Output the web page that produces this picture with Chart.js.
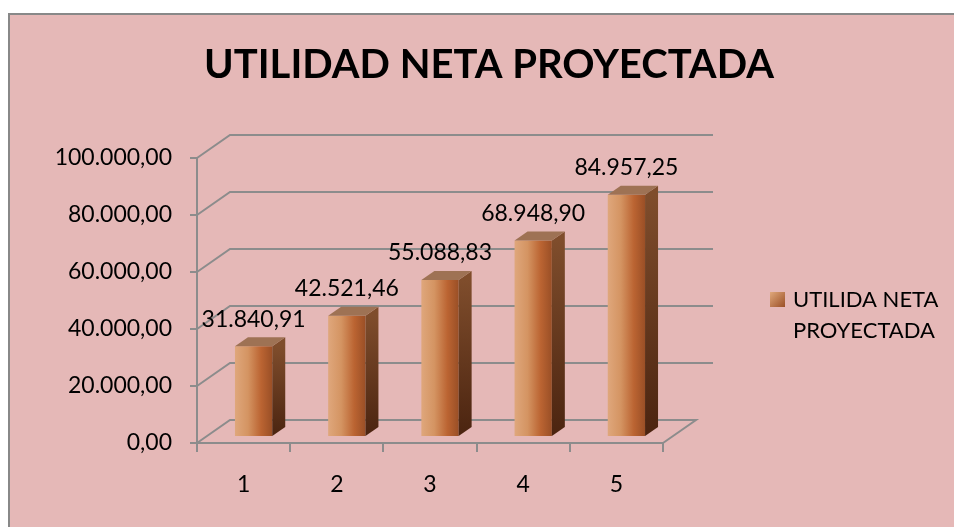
<!DOCTYPE html>
<html>
<head>
<meta charset="utf-8">
<script src="https://cdn.jsdelivr.net/npm/chart.js@4.4.1/dist/chart.umd.min.js"></script>
<style>
  html, body { margin: 0; padding: 0; background: #fff; overflow: hidden; }
  #panel { position: absolute; left: 8px; top: 13px; width: 970px; height: 540px; background: #e5b8b7; border: 2px solid #888; }
  #wrap { position: absolute; left: 0; top: 0; width: 954px; height: 527px; }
</style>
</head>
<body>
<div id="panel"></div>
<div id="wrap"><canvas id="utilidadChart"></canvas></div>
<script>
// --------------------
// Data
// --------------------
const periods = ["1", "2", "3", "4", "5"];
const utilidadNeta = [31840.91, 42521.46, 55088.83, 68948.90, 84957.25];
const yTickValues = [0, 20000, 40000, 60000, 80000, 100000];
const seriesName = "UTILIDA NETA PROYECTADA";
const chartTitle = "UTILIDAD NETA PROYECTADA";

// --------------------
// Look
// --------------------
const FONT = "Lato";
const GRID_COLOR = "#8c8c8c";
const WALL_DX = 33, WALL_DY = -23;     // back wall offset
const WALL_EXTRA = 50;                  // back gridlines run a bit past the floor
const BAR_DX = 10, BAR_DY = -6;         // bars sit a little inside the floor
const BAR_DEPTH_X = 13, BAR_DEPTH_Y = -9;

function formatEs(v) {
  const parts = Number(v).toFixed(2).split(".");
  const intPart = parts[0].replace(/\B(?=(\d{3})+(?!\d))/g, ".");
  return intPart + "," + parts[1];
}

function frontGradient(c) {
  const chart = c.chart;
  if (!chart.chartArea || c.type !== "data") return "#c97a45";
  const xs = chart.scales.x;
  const cx = xs.getPixelForValue(c.dataIndex);
  const half = xs.width / periods.length * 0.4 / 2;
  const g = chart.ctx.createLinearGradient(cx - half, 0, cx + half, 0);
  g.addColorStop(0, "#dfa77c");
  g.addColorStop(0.35, "#d49462");
  g.addColorStop(0.7, "#bb6432");
  g.addColorStop(1, "#9a4f26");
  return g;
}

// --------------------
// 3D look: back wall, bar sides/tops, value labels, legend
// --------------------
const excel3d = {
  id: "excel3d",
  beforeDatasetsDraw(chart) {
    const { ctx, chartArea, scales: { y } } = chart;
    ctx.save();
    ctx.strokeStyle = GRID_COLOR;
    ctx.lineWidth = 2;
    yTickValues.forEach(v => {
      const py = y.getPixelForValue(v);
      ctx.beginPath();
      ctx.moveTo(chartArea.left, py);
      ctx.lineTo(chartArea.left + WALL_DX, py + WALL_DY);
      if (v === 0) {
        ctx.lineTo(chartArea.right + WALL_DX, py + WALL_DY);
        ctx.lineTo(chartArea.right, py);
      } else {
        ctx.lineTo(chartArea.right + WALL_EXTRA, py + WALL_DY);
      }
      ctx.stroke();
    });
    ctx.restore();
  },
  beforeDatasetDraw(chart) {
    chart.ctx.save();
    chart.ctx.translate(BAR_DX, BAR_DY);
  },
  afterDatasetDraw(chart, args) {
    const ctx = chart.ctx;
    const bars = chart.getDatasetMeta(args.index).data;
    bars.forEach(bar => {
      const { x, y, base, width } = bar.getProps(["x", "y", "base", "width"], true);
      const l = x - width / 2, r = x + width / 2;
      // side face
      const side = ctx.createLinearGradient(0, y, 0, base);
      side.addColorStop(0, "#7f4d2c");
      side.addColorStop(1, "#4b2410");
      ctx.fillStyle = side;
      ctx.beginPath();
      ctx.moveTo(r, y);
      ctx.lineTo(r + BAR_DEPTH_X, y + BAR_DEPTH_Y);
      ctx.lineTo(r + BAR_DEPTH_X, base + BAR_DEPTH_Y);
      ctx.lineTo(r, base);
      ctx.closePath();
      ctx.fill();
      // top face
      ctx.fillStyle = "#9e7254";
      ctx.beginPath();
      ctx.moveTo(l, y);
      ctx.lineTo(l + BAR_DEPTH_X, y + BAR_DEPTH_Y);
      ctx.lineTo(r + BAR_DEPTH_X, y + BAR_DEPTH_Y);
      ctx.lineTo(r, y);
      ctx.closePath();
      ctx.fill();
    });
    ctx.restore();

    // value labels
    ctx.save();
    ctx.fillStyle = "#000";
    ctx.font = "23px " + FONT;
    ctx.textAlign = "center";
    ctx.textBaseline = "middle";
    bars.forEach((bar, i) => {
      const { x, y } = bar.getProps(["x", "y"], true);
      ctx.fillText(formatEs(utilidadNeta[i]), x + BAR_DX, y + BAR_DY - 27);
    });
    ctx.restore();
  },
  afterDraw(chart) {
    const ctx = chart.ctx;
    ctx.save();
    const g = ctx.createLinearGradient(770, 292, 785, 307);
    g.addColorStop(0, "#e0a87c");
    g.addColorStop(1, "#9a4f26");
    ctx.fillStyle = g;
    ctx.fillRect(770, 292, 15, 15);
    ctx.fillStyle = "#000";
    ctx.font = "22px " + FONT;
    ctx.textAlign = "left";
    ctx.textBaseline = "middle";
    const words = seriesName.split(" ");
    ctx.fillText(words.slice(0, 2).join(" "), 793, 300);
    ctx.fillText(words.slice(2).join(" "), 793, 331);
    ctx.restore();
  }
};

// --------------------
// Chart
// --------------------
document.addEventListener("DOMContentLoaded", () => {
  const canvas = document.getElementById("utilidadChart");
  new Chart(canvas, {
    type: "bar",
    data: {
      labels: periods,
      datasets: [
        {
          label: seriesName,
          data: utilidadNeta,
          backgroundColor: frontGradient,
          borderWidth: 0,
          barPercentage: 0.4,
          categoryPercentage: 1,
          clip: false
        }
      ]
    },
    options: {
      responsive: true,
      maintainAspectRatio: false,
      animation: false,
      layout: { padding: { left: 24, right: 0, top: 0, bottom: 0 } },
      plugins: {
        legend: { display: false },
        tooltip: { enabled: false },
        title: {
          display: true,
          text: chartTitle,
          color: "#000",
          font: { family: FONT, size: 40, weight: "bold" },
          padding: { top: 41, bottom: 69 }
        }
      },
      scales: {
        x: {
          grid: { drawOnChartArea: false, drawTicks: true, tickLength: 9, color: GRID_COLOR, lineWidth: 2 },
          border: { display: true, color: GRID_COLOR, width: 2 },
          ticks: { color: "#000", font: { family: FONT, size: 23 }, padding: 19 },
          afterFit: s => { s.height = 84; }
        },
        y: {
          min: 0,
          max: 100000,
          afterBuildTicks: s => { s.ticks = yTickValues.map(v => ({ value: v })); },
          grid: { drawOnChartArea: false, drawTicks: true, tickLength: 7, color: GRID_COLOR, lineWidth: 2 },
          border: { display: true, color: GRID_COLOR, width: 2 },
          ticks: { color: "#000", font: { family: FONT, size: 23 }, padding: 18, callback: v => formatEs(v) },
          afterFit: s => { s.width = 173; }
        },
        legendSpace: {
          type: "linear",
          position: "right",
          grid: { display: false },
          border: { display: false },
          ticks: { display: false },
          afterFit: s => { s.width = 291; }
        }
      }
    },
    plugins: [excel3d]
  });
});
</script>
</body>
</html>
